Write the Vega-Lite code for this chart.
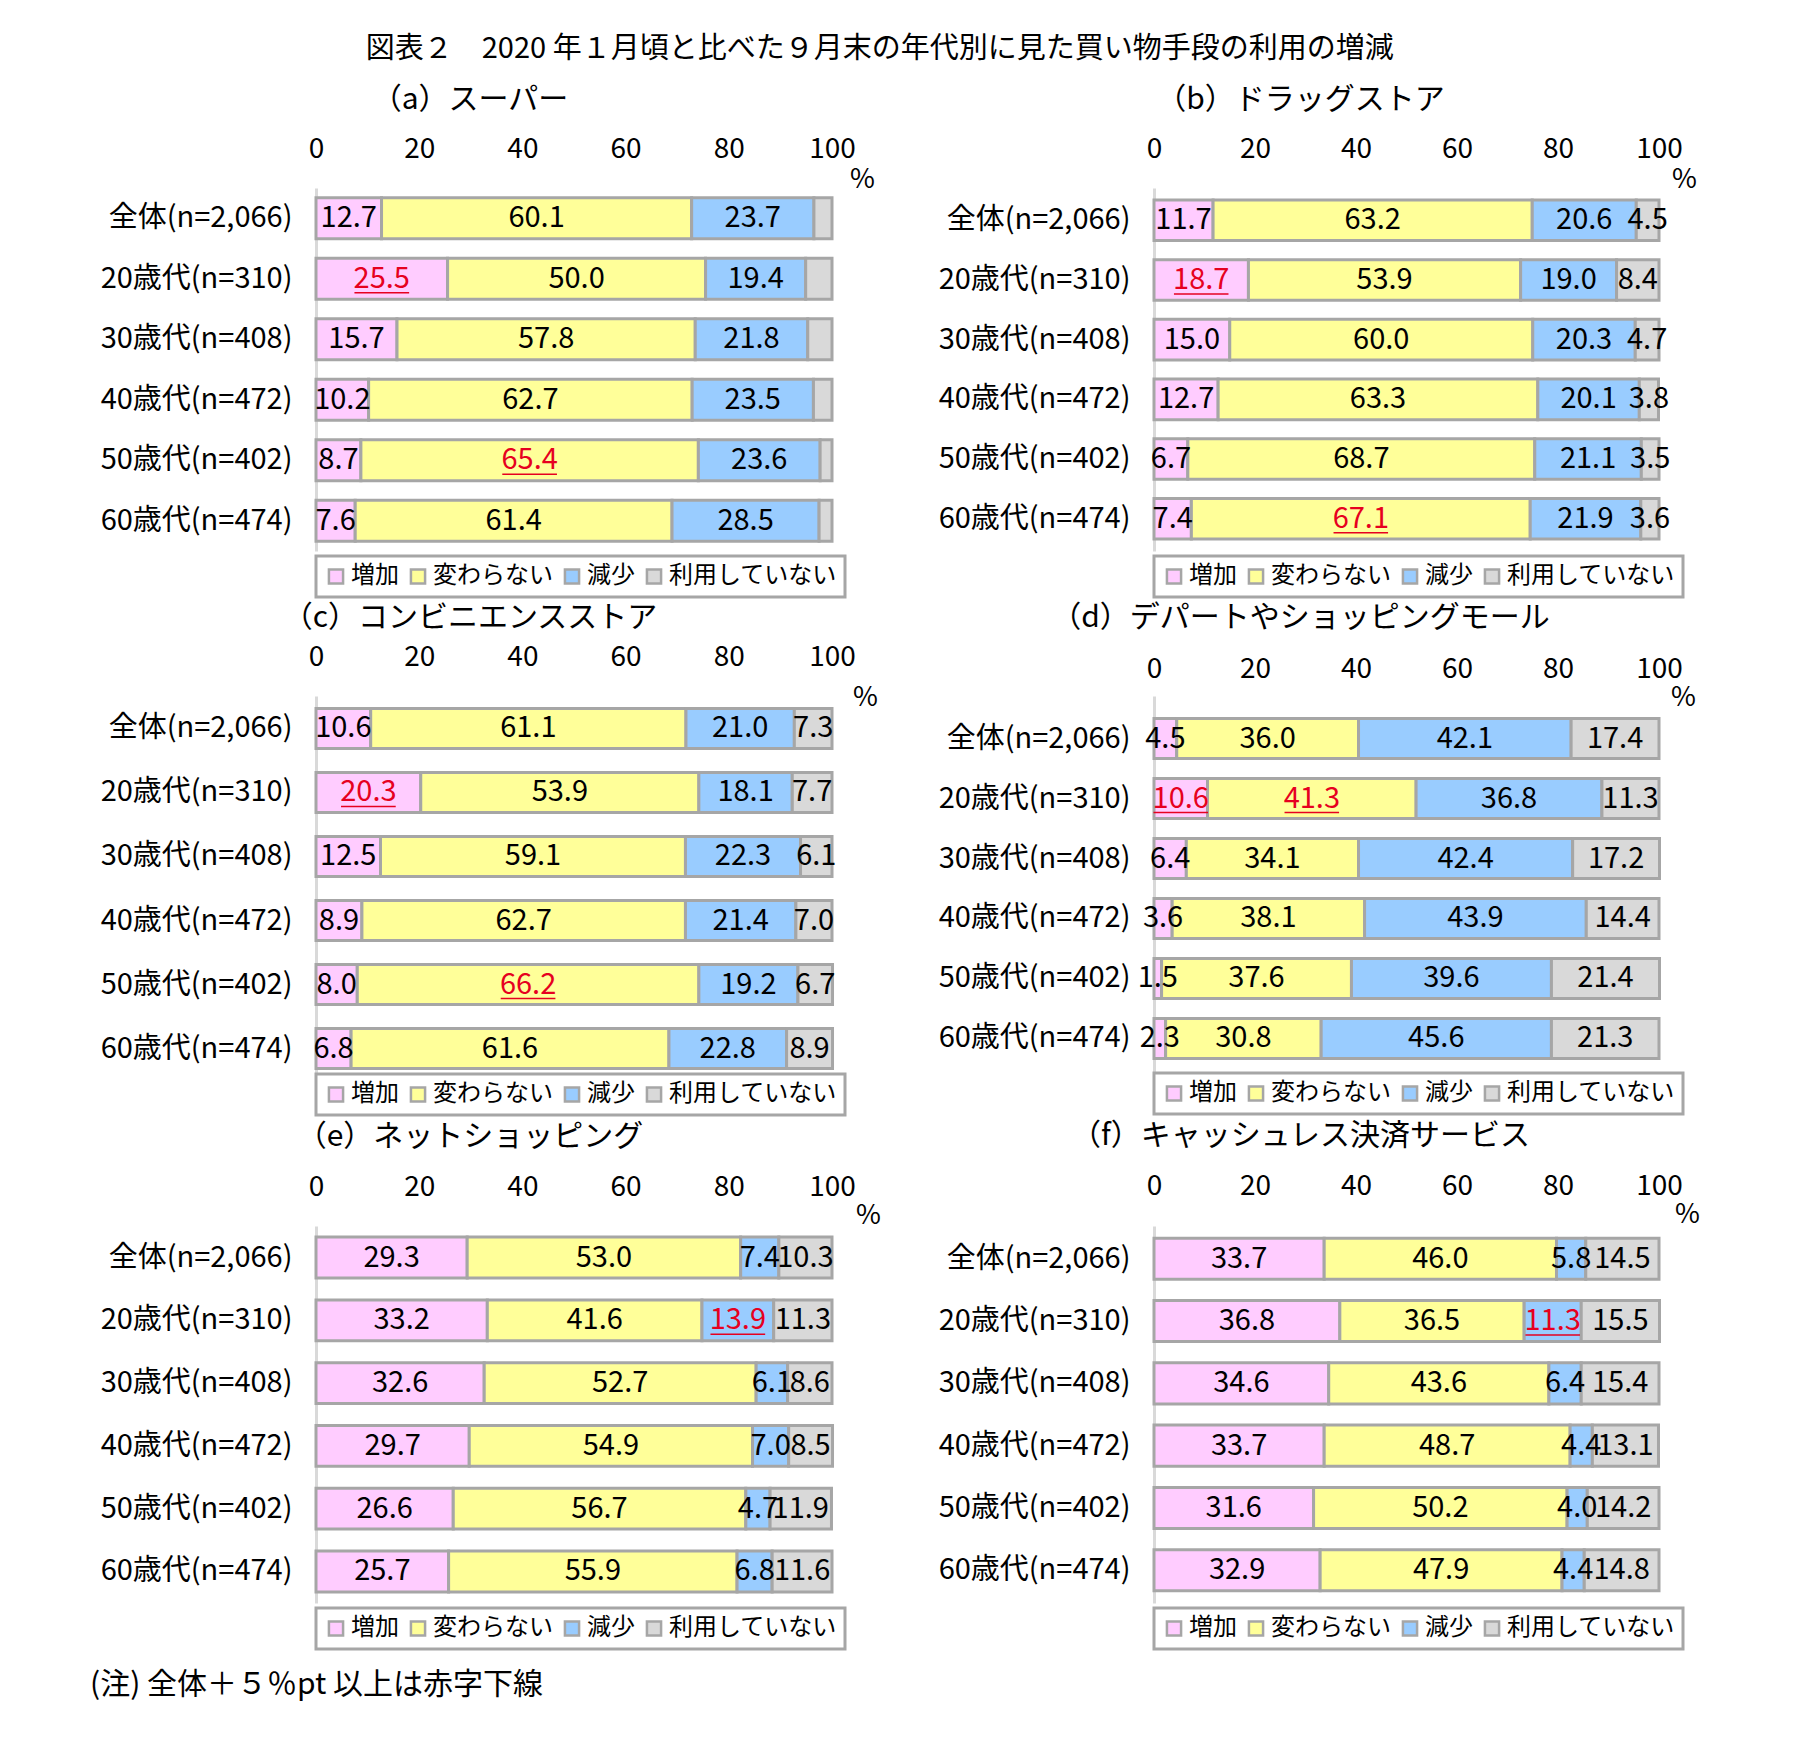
{
"$schema": "https://vega.github.io/schema/vega-lite/v6.json",
"padding": {"left": 90, "top": 35, "right": 5, "bottom": 5},
"background": "white",
"datasets": {
"d": [
{"p":"a","age":"全体(n=2,066)","増加":12.7,"変わらない":60.1,"減少":23.7,"利用していない":3.5,"red":[]},
{"p":"a","age":"20歳代(n=310)","増加":25.5,"変わらない":50.0,"減少":19.4,"利用していない":5.1,"red":["増加"]},
{"p":"a","age":"30歳代(n=408)","増加":15.7,"変わらない":57.8,"減少":21.8,"利用していない":4.7,"red":[]},
{"p":"a","age":"40歳代(n=472)","増加":10.2,"変わらない":62.7,"減少":23.5,"利用していない":3.6,"red":[]},
{"p":"a","age":"50歳代(n=402)","増加":8.7,"変わらない":65.4,"減少":23.6,"利用していない":2.3,"red":["変わらない"]},
{"p":"a","age":"60歳代(n=474)","増加":7.6,"変わらない":61.4,"減少":28.5,"利用していない":2.5,"red":[]},
{"p":"b","age":"全体(n=2,066)","増加":11.7,"変わらない":63.2,"減少":20.6,"利用していない":4.5,"red":[]},
{"p":"b","age":"20歳代(n=310)","増加":18.7,"変わらない":53.9,"減少":19.0,"利用していない":8.4,"red":["増加"]},
{"p":"b","age":"30歳代(n=408)","増加":15.0,"変わらない":60.0,"減少":20.3,"利用していない":4.7,"red":[]},
{"p":"b","age":"40歳代(n=472)","増加":12.7,"変わらない":63.3,"減少":20.1,"利用していない":3.8,"red":[]},
{"p":"b","age":"50歳代(n=402)","増加":6.7,"変わらない":68.7,"減少":21.1,"利用していない":3.5,"red":[]},
{"p":"b","age":"60歳代(n=474)","増加":7.4,"変わらない":67.1,"減少":21.9,"利用していない":3.6,"red":["変わらない"]},
{"p":"c","age":"全体(n=2,066)","増加":10.6,"変わらない":61.1,"減少":21.0,"利用していない":7.3,"red":[]},
{"p":"c","age":"20歳代(n=310)","増加":20.3,"変わらない":53.9,"減少":18.1,"利用していない":7.7,"red":["増加"]},
{"p":"c","age":"30歳代(n=408)","増加":12.5,"変わらない":59.1,"減少":22.3,"利用していない":6.1,"red":[]},
{"p":"c","age":"40歳代(n=472)","増加":8.9,"変わらない":62.7,"減少":21.4,"利用していない":7.0,"red":[]},
{"p":"c","age":"50歳代(n=402)","増加":8.0,"変わらない":66.2,"減少":19.2,"利用していない":6.7,"red":["変わらない"]},
{"p":"c","age":"60歳代(n=474)","増加":6.8,"変わらない":61.6,"減少":22.8,"利用していない":8.9,"red":[]},
{"p":"d","age":"全体(n=2,066)","増加":4.5,"変わらない":36.0,"減少":42.1,"利用していない":17.4,"red":[]},
{"p":"d","age":"20歳代(n=310)","増加":10.6,"変わらない":41.3,"減少":36.8,"利用していない":11.3,"red":["増加","変わらない"]},
{"p":"d","age":"30歳代(n=408)","増加":6.4,"変わらない":34.1,"減少":42.4,"利用していない":17.2,"red":[]},
{"p":"d","age":"40歳代(n=472)","増加":3.6,"変わらない":38.1,"減少":43.9,"利用していない":14.4,"red":[]},
{"p":"d","age":"50歳代(n=402)","増加":1.5,"変わらない":37.6,"減少":39.6,"利用していない":21.4,"red":[]},
{"p":"d","age":"60歳代(n=474)","増加":2.3,"変わらない":30.8,"減少":45.6,"利用していない":21.3,"red":[]},
{"p":"e","age":"全体(n=2,066)","増加":29.3,"変わらない":53.0,"減少":7.4,"利用していない":10.3,"red":[]},
{"p":"e","age":"20歳代(n=310)","増加":33.2,"変わらない":41.6,"減少":13.9,"利用していない":11.3,"red":["減少"]},
{"p":"e","age":"30歳代(n=408)","増加":32.6,"変わらない":52.7,"減少":6.1,"利用していない":8.6,"red":[]},
{"p":"e","age":"40歳代(n=472)","増加":29.7,"変わらない":54.9,"減少":7.0,"利用していない":8.5,"red":[]},
{"p":"e","age":"50歳代(n=402)","増加":26.6,"変わらない":56.7,"減少":4.7,"利用していない":11.9,"red":[]},
{"p":"e","age":"60歳代(n=474)","増加":25.7,"変わらない":55.9,"減少":6.8,"利用していない":11.6,"red":[]},
{"p":"f","age":"全体(n=2,066)","増加":33.7,"変わらない":46.0,"減少":5.8,"利用していない":14.5,"red":[]},
{"p":"f","age":"20歳代(n=310)","増加":36.8,"変わらない":36.5,"減少":11.3,"利用していない":15.5,"red":["減少"]},
{"p":"f","age":"30歳代(n=408)","増加":34.6,"変わらない":43.6,"減少":6.4,"利用していない":15.4,"red":[]},
{"p":"f","age":"40歳代(n=472)","増加":33.7,"変わらない":48.7,"減少":4.4,"利用していない":13.1,"red":[]},
{"p":"f","age":"50歳代(n=402)","増加":31.6,"変わらない":50.2,"減少":4.0,"利用していない":14.2,"red":[]},
{"p":"f","age":"60歳代(n=474)","増加":32.9,"変わらない":47.9,"減少":4.4,"利用していない":14.8,"red":[]}
]
},
"title": {"text": "図表２　2020 年１月頃と比べた９月末の年代別に見た買い物手段の利用の増減", "fontSize": 29, "fontWeight": "normal", "anchor": "middle", "offset": 21, "dx": -15, "color": "#000"},
"bounds": "flush",
"columns": 2,
"spacing": {"row": 145, "column": 322},
"resolve": {"scale": {"color": "independent"}, "legend": {"color": "independent"}},
"concat": [
{"width": 516, "height": 363, "data": {"name": "d"},
 "title": {"text": "（a）スーパー", "frame": "group", "dx": -104, "offset": 20},
 "transform": [
  {"filter": "datum.p === 'a'"},
  {"fold": ["増加","変わらない","減少","利用していない"], "as": ["cat","v"]},
  {"calculate": "indexof(['増加','変わらない','減少','利用していない'], datum.cat)", "as": "ord"},
  {"stack": "v", "groupby": ["age"], "sort": [{"field": "ord", "order": "ascending"}], "as": ["x0","x1"]},
  {"calculate": "(datum.x0 + datum.x1) / 2", "as": "mid"},
  {"calculate": "indexof(datum.red, datum.cat) >= 0", "as": "hl"}
 ],
 "encoding": {"y": {"field": "age", "type": "nominal", "sort": ["全体(n=2,066)","20歳代(n=310)","30歳代(n=408)","40歳代(n=472)","50歳代(n=402)","60歳代(n=474)"], "scale": {"paddingInner": 0.32, "paddingOuter": 0.16}, "axis": {"title": null}}},
 "layer": [
  {"mark": {"type": "bar", "stroke": "#a6a6a6", "strokeWidth": 3},
   "encoding": {
    "x": {"field": "x0", "type": "quantitative", "scale": {"domain": [0,100]}, "axis": {"orient": "top", "values": [0,20,40,60,80,100], "labelPadding": 25, "title": "%", "titleX": 546, "titleY": -9}},
    "x2": {"field": "x1"},
    "color": {"field": "cat", "type": "nominal", "scale": {"domain": ["増加","変わらない","減少","利用していない"], "range": ["#ffccff","#ffff99","#99ccff","#d9d9d9"]}, "legend": {"title": null, "offset": 5}}}},
  {"transform": [{"filter": "datum.cat !== '利用していない'"}],
   "mark": {"type": "text", "fontSize": 29},
   "encoding": {"x": {"field": "mid", "type": "quantitative", "axis": {"orient": "top", "values": [0,20,40,60,80,100], "labelPadding": 25, "title": "%", "titleX": 546, "titleY": -9}}, "text": {"field": "v", "type": "quantitative", "format": ".1f"}, "fill": {"condition": {"test": "datum.hl", "value": "#e60020"}, "value": "#000000"}}},
  {"transform": [{"filter": "datum.hl"}, {"calculate": "datum.mid - 5.3", "as": "u0"}, {"calculate": "datum.mid + 5.3", "as": "u1"}],
   "mark": {"type": "rule", "stroke": "#e60020", "strokeWidth": 1.5, "yOffset": 14},
   "encoding": {"x": {"field": "u0", "type": "quantitative", "axis": {"orient": "top", "values": [0,20,40,60,80,100], "labelPadding": 25, "title": "%", "titleX": 546, "titleY": -9}}, "x2": {"field": "u1"}}}
 ]},
{"width": 505, "height": 363, "data": {"name": "d"},
 "title": {"text": "（b）ドラッグストア", "frame": "group", "dx": -106, "offset": 20},
 "transform": [
  {"filter": "datum.p === 'b'"},
  {"fold": ["増加","変わらない","減少","利用していない"], "as": ["cat","v"]},
  {"calculate": "indexof(['増加','変わらない','減少','利用していない'], datum.cat)", "as": "ord"},
  {"stack": "v", "groupby": ["age"], "sort": [{"field": "ord", "order": "ascending"}], "as": ["x0","x1"]},
  {"calculate": "(datum.x0 + datum.x1) / 2", "as": "mid"},
  {"calculate": "indexof(datum.red, datum.cat) >= 0", "as": "hl"}
 ],
 "encoding": {"y": {"field": "age", "type": "nominal", "sort": ["全体(n=2,066)","20歳代(n=310)","30歳代(n=408)","40歳代(n=472)","50歳代(n=402)","60歳代(n=474)"], "scale": {"paddingInner": 0.32, "paddingOuter": 0.2}, "axis": {"title": null}}},
 "layer": [
  {"mark": {"type": "bar", "stroke": "#a6a6a6", "strokeWidth": 3},
   "encoding": {
    "x": {"field": "x0", "type": "quantitative", "scale": {"domain": [0,100]}, "axis": {"orient": "top", "values": [0,20,40,60,80,100], "labelPadding": 25, "title": "%", "titleX": 530, "titleY": -9}},
    "x2": {"field": "x1"},
    "color": {"field": "cat", "type": "nominal", "scale": {"domain": ["増加","変わらない","減少","利用していない"], "range": ["#ffccff","#ffff99","#99ccff","#d9d9d9"]}, "legend": {"title": null, "offset": 5}}}},
  {"mark": {"type": "text", "fontSize": 29},
   "encoding": {"x": {"field": "mid", "type": "quantitative", "axis": {"orient": "top", "values": [0,20,40,60,80,100], "labelPadding": 25, "title": "%", "titleX": 530, "titleY": -9}}, "text": {"field": "v", "type": "quantitative", "format": ".1f"}, "fill": {"condition": {"test": "datum.hl", "value": "#e60020"}, "value": "#000000"}}},
  {"transform": [{"filter": "datum.hl"}, {"calculate": "datum.mid - 5.4", "as": "u0"}, {"calculate": "datum.mid + 5.4", "as": "u1"}],
   "mark": {"type": "rule", "stroke": "#e60020", "strokeWidth": 1.5, "yOffset": 14},
   "encoding": {"x": {"field": "u0", "type": "quantitative", "axis": {"orient": "top", "values": [0,20,40,60,80,100], "labelPadding": 25, "title": "%", "titleX": 530, "titleY": -9}}, "x2": {"field": "u1"}}}
 ]},
{"width": 516, "height": 385, "data": {"name": "d"},
 "title": {"text": "（c）コンビニエンスストア", "frame": "group", "dx": -104, "offset": 10},
 "transform": [
  {"filter": "datum.p === 'c'"},
  {"fold": ["増加","変わらない","減少","利用していない"], "as": ["cat","v"]},
  {"calculate": "indexof(['増加','変わらない','減少','利用していない'], datum.cat)", "as": "ord"},
  {"stack": "v", "groupby": ["age"], "sort": [{"field": "ord", "order": "ascending"}], "as": ["x0","x1"]},
  {"calculate": "(datum.x0 + datum.x1) / 2", "as": "mid"},
  {"calculate": "indexof(datum.red, datum.cat) >= 0", "as": "hl"}
 ],
 "encoding": {"y": {"field": "age", "type": "nominal", "sort": ["全体(n=2,066)","20歳代(n=310)","30歳代(n=408)","40歳代(n=472)","50歳代(n=402)","60歳代(n=474)"], "scale": {"paddingInner": 0.375, "paddingOuter": 0.195}, "axis": {"title": null}}},
 "layer": [
  {"mark": {"type": "bar", "stroke": "#a6a6a6", "strokeWidth": 3},
   "encoding": {
    "x": {"field": "x0", "type": "quantitative", "scale": {"domain": [0,100]}, "axis": {"orient": "top", "values": [0,20,40,60,80,100], "labelPadding": 25, "title": "%", "titleX": 549, "titleY": 1}},
    "x2": {"field": "x1"},
    "color": {"field": "cat", "type": "nominal", "scale": {"domain": ["増加","変わらない","減少","利用していない"], "range": ["#ffccff","#ffff99","#99ccff","#d9d9d9"]}, "legend": {"title": null, "offset": -7}}}},
  {"mark": {"type": "text", "fontSize": 29},
   "encoding": {"x": {"field": "mid", "type": "quantitative", "axis": {"orient": "top", "values": [0,20,40,60,80,100], "labelPadding": 25, "title": "%", "titleX": 549, "titleY": 1}}, "text": {"field": "v", "type": "quantitative", "format": ".1f"}, "fill": {"condition": {"test": "datum.hl", "value": "#e60020"}, "value": "#000000"}}},
  {"transform": [{"filter": "datum.hl"}, {"calculate": "datum.mid - 5.3", "as": "u0"}, {"calculate": "datum.mid + 5.3", "as": "u1"}],
   "mark": {"type": "rule", "stroke": "#e60020", "strokeWidth": 1.5, "yOffset": 14},
   "encoding": {"x": {"field": "u0", "type": "quantitative", "axis": {"orient": "top", "values": [0,20,40,60,80,100], "labelPadding": 25, "title": "%", "titleX": 549, "titleY": 1}}, "x2": {"field": "u1"}}}
 ]},
{"width": 505, "height": 385, "data": {"name": "d"},
 "title": {"text": "（d）デパートやショッピングモール", "frame": "group", "dx": -106, "offset": 22},
 "transform": [
  {"filter": "datum.p === 'd'"},
  {"fold": ["増加","変わらない","減少","利用していない"], "as": ["cat","v"]},
  {"calculate": "indexof(['増加','変わらない','減少','利用していない'], datum.cat)", "as": "ord"},
  {"stack": "v", "groupby": ["age"], "sort": [{"field": "ord", "order": "ascending"}], "as": ["x0","x1"]},
  {"calculate": "(datum.x0 + datum.x1) / 2", "as": "mid"},
  {"calculate": "indexof(datum.red, datum.cat) >= 0", "as": "hl"}
 ],
 "encoding": {"y": {"field": "age", "type": "nominal", "sort": ["全体(n=2,066)","20歳代(n=310)","30歳代(n=408)","40歳代(n=472)","50歳代(n=402)","60歳代(n=474)"], "scale": {"paddingInner": 0.333, "paddingOuter": 0.375}, "axis": {"title": null}}},
 "layer": [
  {"mark": {"type": "bar", "stroke": "#a6a6a6", "strokeWidth": 3},
   "encoding": {
    "x": {"field": "x0", "type": "quantitative", "scale": {"domain": [0,100]}, "axis": {"orient": "top", "values": [0,20,40,60,80,100], "labelPadding": 13, "title": "%", "titleX": 529, "titleY": 1}},
    "x2": {"field": "x1"},
    "color": {"field": "cat", "type": "nominal", "scale": {"domain": ["増加","変わらない","減少","利用していない"], "range": ["#ffccff","#ffff99","#99ccff","#d9d9d9"]}, "legend": {"title": null, "offset": -8}}}},
  {"mark": {"type": "text", "fontSize": 29},
   "encoding": {"x": {"field": "mid", "type": "quantitative", "axis": {"orient": "top", "values": [0,20,40,60,80,100], "labelPadding": 13, "title": "%", "titleX": 529, "titleY": 1}}, "text": {"field": "v", "type": "quantitative", "format": ".1f"}, "fill": {"condition": {"test": "datum.hl", "value": "#e60020"}, "value": "#000000"}}},
  {"transform": [{"filter": "datum.hl"}, {"calculate": "datum.mid - 5.4", "as": "u0"}, {"calculate": "datum.mid + 5.4", "as": "u1"}],
   "mark": {"type": "rule", "stroke": "#e60020", "strokeWidth": 1.5, "yOffset": 14},
   "encoding": {"x": {"field": "u0", "type": "quantitative", "axis": {"orient": "top", "values": [0,20,40,60,80,100], "labelPadding": 13, "title": "%", "titleX": 529, "titleY": 1}}, "x2": {"field": "u1"}}}
 ]},
{"width": 516, "height": 377, "data": {"name": "d"},
 "title": {"text": "（e）ネットショッピング", "frame": "group", "dx": -104, "offset": 21},
 "transform": [
  {"filter": "datum.p === 'e'"},
  {"fold": ["増加","変わらない","減少","利用していない"], "as": ["cat","v"]},
  {"calculate": "indexof(['増加','変わらない','減少','利用していない'], datum.cat)", "as": "ord"},
  {"stack": "v", "groupby": ["age"], "sort": [{"field": "ord", "order": "ascending"}], "as": ["x0","x1"]},
  {"calculate": "(datum.x0 + datum.x1) / 2", "as": "mid"},
  {"calculate": "indexof(datum.red, datum.cat) >= 0", "as": "hl"}
 ],
 "encoding": {"y": {"field": "age", "type": "nominal", "sort": ["全体(n=2,066)","20歳代(n=310)","30歳代(n=408)","40歳代(n=472)","50歳代(n=402)","60歳代(n=474)"], "scale": {"paddingInner": 0.35, "paddingOuter": 0.177}, "axis": {"title": null}}},
 "layer": [
  {"mark": {"type": "bar", "stroke": "#a6a6a6", "strokeWidth": 3},
   "encoding": {
    "x": {"field": "x0", "type": "quantitative", "scale": {"domain": [0,100]}, "axis": {"orient": "top", "values": [0,20,40,60,80,100], "labelPadding": 25, "title": "%", "titleX": 552, "titleY": -11}},
    "x2": {"field": "x1"},
    "color": {"field": "cat", "type": "nominal", "scale": {"domain": ["増加","変わらない","減少","利用していない"], "range": ["#ffccff","#ffff99","#99ccff","#d9d9d9"]}, "legend": {"title": null, "offset": 5}}}},
  {"mark": {"type": "text", "fontSize": 29},
   "encoding": {"x": {"field": "mid", "type": "quantitative", "axis": {"orient": "top", "values": [0,20,40,60,80,100], "labelPadding": 25, "title": "%", "titleX": 552, "titleY": -11}}, "text": {"field": "v", "type": "quantitative", "format": ".1f"}, "fill": {"condition": {"test": "datum.hl", "value": "#e60020"}, "value": "#000000"}}},
  {"transform": [{"filter": "datum.hl"}, {"calculate": "datum.mid - 5.3", "as": "u0"}, {"calculate": "datum.mid + 5.3", "as": "u1"}],
   "mark": {"type": "rule", "stroke": "#e60020", "strokeWidth": 1.5, "yOffset": 14},
   "encoding": {"x": {"field": "u0", "type": "quantitative", "axis": {"orient": "top", "values": [0,20,40,60,80,100], "labelPadding": 25, "title": "%", "titleX": 552, "titleY": -11}}, "x2": {"field": "u1"}}}
 ]},
{"width": 505, "height": 377, "data": {"name": "d"},
 "title": {"text": "（f）キャッシュレス決済サービス", "frame": "group", "dx": -106, "offset": 21},
 "transform": [
  {"filter": "datum.p === 'f'"},
  {"fold": ["増加","変わらない","減少","利用していない"], "as": ["cat","v"]},
  {"calculate": "indexof(['増加','変わらない','減少','利用していない'], datum.cat)", "as": "ord"},
  {"stack": "v", "groupby": ["age"], "sort": [{"field": "ord", "order": "ascending"}], "as": ["x0","x1"]},
  {"calculate": "(datum.x0 + datum.x1) / 2", "as": "mid"},
  {"calculate": "indexof(datum.red, datum.cat) >= 0", "as": "hl"}
 ],
 "encoding": {"y": {"field": "age", "type": "nominal", "sort": ["全体(n=2,066)","20歳代(n=310)","30歳代(n=408)","40歳代(n=472)","50歳代(n=402)","60歳代(n=474)"], "scale": {"paddingInner": 0.34, "paddingOuter": 0.196}, "axis": {"title": null}}},
 "layer": [
  {"mark": {"type": "bar", "stroke": "#a6a6a6", "strokeWidth": 3},
   "encoding": {
    "x": {"field": "x0", "type": "quantitative", "scale": {"domain": [0,100]}, "axis": {"orient": "top", "values": [0,20,40,60,80,100], "labelPadding": 26, "title": "%", "titleX": 533, "titleY": -12}},
    "x2": {"field": "x1"},
    "color": {"field": "cat", "type": "nominal", "scale": {"domain": ["増加","変わらない","減少","利用していない"], "range": ["#ffccff","#ffff99","#99ccff","#d9d9d9"]}, "legend": {"title": null, "offset": 5}}}},
  {"mark": {"type": "text", "fontSize": 29},
   "encoding": {"x": {"field": "mid", "type": "quantitative", "axis": {"orient": "top", "values": [0,20,40,60,80,100], "labelPadding": 26, "title": "%", "titleX": 533, "titleY": -12}}, "text": {"field": "v", "type": "quantitative", "format": ".1f"}, "fill": {"condition": {"test": "datum.hl", "value": "#e60020"}, "value": "#000000"}}},
  {"transform": [{"filter": "datum.hl"}, {"calculate": "datum.mid - 5.4", "as": "u0"}, {"calculate": "datum.mid + 5.4", "as": "u1"}],
   "mark": {"type": "rule", "stroke": "#e60020", "strokeWidth": 1.5, "yOffset": 14},
   "encoding": {"x": {"field": "u0", "type": "quantitative", "axis": {"orient": "top", "values": [0,20,40,60,80,100], "labelPadding": 26, "title": "%", "titleX": 533, "titleY": -12}}, "x2": {"field": "u1"}}}
 ]},
{"width": 516, "height": 1,
 "data": {"values": [{"note": "(注)  全体＋５％pt 以上は赤字下線"}]},
 "mark": {"type": "text", "align": "left", "baseline": "middle", "fontSize": 30, "dx": -484, "dy": -64},
 "encoding": {"text": {"field": "note"}}}
],
"config": {
 "font": "Noto Sans CJK JP",
 "view": {"stroke": null},
 "title": {"fontSize": 30, "fontWeight": "normal", "color": "#000"},
 "axis": {"grid": false, "ticks": false, "tickSize": 0, "labelColor": "#000", "titleColor": "#000"},
 "axisX": {"labelFontSize": 28, "domain": false, "labelFlush": false, "titleFontSize": 27, "titleFontWeight": "normal", "titleAlign": "center", "titleBaseline": "middle", "titleAngle": 0},
 "axisY": {"labelFontSize": 29, "labelPadding": 24, "domainColor": "#d9d9d9", "domainWidth": 3, "labelLimit": 400},
 "legend": {"orient": "bottom", "direction": "horizontal", "strokeColor": "#a6a6a6", "strokeWidth": 3, "fillColor": "#ffffff", "padding": 8, "symbolType": "square", "symbolSize": 200, "symbolStrokeColor": "#a6a6a6", "symbolStrokeWidth": 2.5, "labelFontSize": 24, "labelColor": "#000", "columnPadding": 6, "labelOffset": 3, "labelLimit": 400}
}
}
